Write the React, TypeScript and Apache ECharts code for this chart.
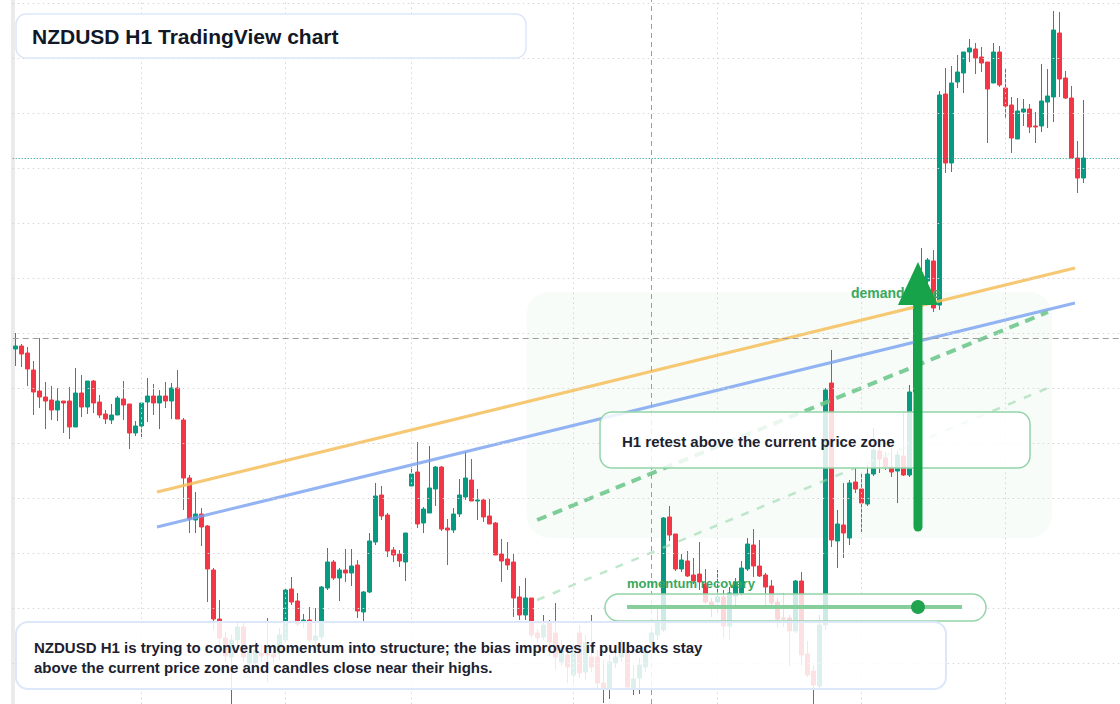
import React, { useEffect, useRef } from 'react';
import * as echarts from 'echarts';

// NZDUSD H1 candles, index 0..178 (oldest first)
const opens = [
  0.58818, 0.58824, 0.5881, 0.58776, 0.58734, 0.58722, 0.58716, 0.58696, 0.58714, 0.58714,
  0.58662, 0.5873, 0.58702, 0.58754, 0.58712, 0.58688, 0.58676, 0.58686, 0.58718, 0.58708,
  0.5865, 0.58664, 0.58712, 0.58724, 0.5871, 0.58724, 0.58714, 0.5874, 0.58676, 0.5856,
  0.58476, 0.58488, 0.58464, 0.58376, 0.58278, 0.5824, 0.58202, 0.58236, 0.58262, 0.5819,
  0.5819, 0.5821, 0.5821, 0.58208, 0.5821, 0.58236, 0.58338, 0.58314, 0.58274, 0.58276,
  0.58236, 0.58242, 0.5834, 0.58392, 0.5836, 0.58376, 0.5837, 0.58386, 0.58292, 0.58332,
  0.58432, 0.58526, 0.58486, 0.58416, 0.58408, 0.58392, 0.58544, 0.58572, 0.5847, 0.5849,
  0.58538, 0.58582, 0.5846, 0.58456, 0.58488, 0.58522, 0.58556, 0.58514, 0.58516, 0.58484,
  0.5847, 0.58408, 0.58398, 0.58392, 0.58322, 0.58286, 0.5832, 0.5825, 0.58242, 0.5827,
  0.5825, 0.58192, 0.58206, 0.58166, 0.5825, 0.58172, 0.58202, 0.58202, 0.5815, 0.5814,
  0.5819, 0.58202, 0.58216, 0.5814, 0.5816, 0.58182, 0.5823, 0.58246, 0.58256, 0.58482,
  0.58448, 0.58378, 0.58394, 0.58366, 0.58368, 0.58348, 0.58312, 0.58312, 0.58322, 0.58264,
  0.58324, 0.5833, 0.58378, 0.58426, 0.58384, 0.58366, 0.58344, 0.58312, 0.5828, 0.5828,
  0.58254, 0.58354, 0.58208, 0.58174, 0.58144, 0.58266, 0.5875, 0.58434, 0.58466, 0.5844,
  0.58552, 0.58538, 0.58508, 0.58568, 0.58614, 0.586, 0.58582, 0.58574, 0.58604, 0.58566,
  0.58732, 0.58916, 0.58954, 0.58994, 0.58906, 0.59328, 0.5919, 0.59352, 0.5937, 0.59412,
  0.59418, 0.59402, 0.59392, 0.5935, 0.59412, 0.5934, 0.59306, 0.59238, 0.59292, 0.59298,
  0.59264, 0.59264, 0.59312, 0.59322, 0.5945, 0.5936, 0.5932, 0.592, 0.5916,
];
const closes = [
  0.58824, 0.58808, 0.58778, 0.58732, 0.58722, 0.58714, 0.58696, 0.58714, 0.5871, 0.58662,
  0.5873, 0.58702, 0.58754, 0.5871, 0.58686, 0.58678, 0.58686, 0.5872, 0.58706, 0.5865,
  0.58664, 0.5871, 0.58724, 0.5871, 0.58724, 0.58714, 0.5874, 0.58678, 0.5856, 0.58478,
  0.58488, 0.58462, 0.58378, 0.58278, 0.5824, 0.58204, 0.58236, 0.58262, 0.58202, 0.58212,
  0.58216, 0.58204, 0.58206, 0.58202, 0.58246, 0.58336, 0.58312, 0.58268, 0.58276, 0.58236,
  0.58244, 0.58342, 0.58392, 0.5836, 0.58376, 0.5837, 0.58384, 0.58294, 0.58332, 0.58434,
  0.58524, 0.58484, 0.58414, 0.58406, 0.58394, 0.5845, 0.58568, 0.58468, 0.58498, 0.5854,
  0.58582, 0.58458, 0.58456, 0.58488, 0.58526, 0.5856, 0.58514, 0.58516, 0.58482, 0.58468,
  0.58406, 0.58394, 0.58386, 0.5832, 0.58286, 0.5832, 0.58246, 0.5824, 0.58266, 0.58232,
  0.58202, 0.58216, 0.58182, 0.58216, 0.5817, 0.5823, 0.58182, 0.5815, 0.5814, 0.58192,
  0.58202, 0.58216, 0.58142, 0.58158, 0.58186, 0.58216, 0.5825, 0.58272, 0.5848, 0.58446,
  0.58378, 0.58396, 0.58364, 0.58354, 0.58352, 0.58312, 0.58302, 0.58322, 0.58264, 0.5833,
  0.58352, 0.5838, 0.58428, 0.58384, 0.58364, 0.58342, 0.5831, 0.58278, 0.58278, 0.58254,
  0.58354, 0.58206, 0.58166, 0.58146, 0.58266, 0.58736, 0.58436, 0.58468, 0.5845, 0.5855,
  0.58538, 0.5851, 0.58568, 0.58616, 0.58598, 0.58582, 0.58572, 0.58606, 0.58566, 0.58732,
  0.58916, 0.58954, 0.58996, 0.589, 0.59326, 0.5919, 0.5935, 0.59372, 0.59412, 0.5942,
  0.594, 0.5939, 0.59338, 0.59412, 0.59346, 0.59304, 0.5924, 0.59294, 0.59298, 0.59262,
  0.59262, 0.59314, 0.59324, 0.59456, 0.59358, 0.5932, 0.592, 0.5916, 0.592,
];
const lows = [
  0.58784, 0.58782, 0.58744, 0.58686, 0.587, 0.58658, 0.58676, 0.58674, 0.5865, 0.58638,
  0.58662, 0.58682, 0.58688, 0.5869, 0.5868, 0.58668, 0.58668, 0.58686, 0.58676, 0.58618,
  0.58644, 0.58642, 0.58672, 0.58686, 0.58658, 0.587, 0.58678, 0.58678, 0.58496, 0.5845,
  0.5845, 0.58424, 0.58312, 0.58256, 0.58226, 0.58192, 0.58108, 0.58226, 0.58192, 0.58176,
  0.5818, 0.58192, 0.58152, 0.58186, 0.58196, 0.58232, 0.58306, 0.58264, 0.5826, 0.58232,
  0.58226, 0.58236, 0.58336, 0.58356, 0.58314, 0.58352, 0.58344, 0.5828, 0.58272, 0.5833,
  0.58426, 0.58476, 0.58402, 0.58392, 0.58382, 0.58354, 0.58544, 0.5846, 0.5845, 0.5849,
  0.58504, 0.58454, 0.58386, 0.5845, 0.58482, 0.58516, 0.58514, 0.58476, 0.58472, 0.58468,
  0.58406, 0.58352, 0.58376, 0.58282, 0.58276, 0.58276, 0.5824, 0.58232, 0.58236, 0.58204,
  0.58176, 0.58184, 0.5815, 0.58146, 0.5816, 0.58156, 0.58172, 0.5814, 0.5811, 0.58118,
  0.5818, 0.58192, 0.58136, 0.58126, 0.58128, 0.58172, 0.5822, 0.58236, 0.58252, 0.58434,
  0.58374, 0.58372, 0.58362, 0.58348, 0.58336, 0.58308, 0.58282, 0.5829, 0.5824, 0.58236,
  0.583, 0.58324, 0.58374, 0.58362, 0.58362, 0.583, 0.58304, 0.5826, 0.58262, 0.58184,
  0.5825, 0.58186, 0.58162, 0.58108, 0.5814, 0.58256, 0.58422, 0.5838, 0.584, 0.58426,
  0.5853, 0.58452, 0.58504, 0.58564, 0.5857, 0.58576, 0.58562, 0.5851, 0.58564, 0.58562,
  0.5872, 0.58906, 0.58946, 0.58892, 0.58896, 0.5917, 0.59172, 0.5934, 0.5933, 0.59392,
  0.59368, 0.59372, 0.5923, 0.5935, 0.59342, 0.59278, 0.5921, 0.59238, 0.59264, 0.5925,
  0.5923, 0.59252, 0.5926, 0.59272, 0.59322, 0.59318, 0.592, 0.5913, 0.5915,
];
const highs = [
  0.5885, 0.58828, 0.58822, 0.58794, 0.5884, 0.58752, 0.58744, 0.5874, 0.58714, 0.58742,
  0.5878, 0.58766, 0.58754, 0.58756, 0.58726, 0.58696, 0.58708, 0.58724, 0.58754, 0.58708,
  0.58674, 0.5871, 0.5876, 0.58748, 0.58736, 0.58752, 0.5875, 0.58776, 0.5868, 0.58566,
  0.58532, 0.585, 0.58466, 0.5838, 0.58316, 0.58252, 0.58246, 0.58274, 0.58272, 0.58226,
  0.58236, 0.58226, 0.5828, 0.5822, 0.5826, 0.5834, 0.58362, 0.5833, 0.58288, 0.58302,
  0.583, 0.58344, 0.5842, 0.58396, 0.5838, 0.58418, 0.58418, 0.58396, 0.58334, 0.5845,
  0.5855, 0.58544, 0.5849, 0.58422, 0.58416, 0.5845, 0.58582, 0.58632, 0.58502, 0.58624,
  0.58584, 0.58584, 0.58478, 0.585, 0.58558, 0.58612, 0.58598, 0.58538, 0.58518, 0.58518,
  0.58472, 0.58438, 0.58432, 0.58408, 0.58344, 0.5836, 0.5832, 0.58258, 0.58286, 0.58276,
  0.5831, 0.58236, 0.58226, 0.58232, 0.58266, 0.58246, 0.58286, 0.58216, 0.58196, 0.58206,
  0.58226, 0.58236, 0.58226, 0.58186, 0.582, 0.58226, 0.58262, 0.58302, 0.58482, 0.58504,
  0.58448, 0.58408, 0.58414, 0.584, 0.58432, 0.58378, 0.5832, 0.58376, 0.58336, 0.58342,
  0.5836, 0.58394, 0.5844, 0.58458, 0.58436, 0.5837, 0.58356, 0.5832, 0.5833, 0.58286,
  0.58356, 0.58372, 0.58234, 0.58186, 0.58286, 0.5874, 0.58816, 0.58496, 0.5855, 0.58556,
  0.5858, 0.5857, 0.58586, 0.5866, 0.58632, 0.58612, 0.5862, 0.58614, 0.5869, 0.58746,
  0.58936, 0.5902, 0.59, 0.59016, 0.59334, 0.5938, 0.59384, 0.59406, 0.59412, 0.59438,
  0.5943, 0.59422, 0.59392, 0.5943, 0.59424, 0.5938, 0.59322, 0.5932, 0.59318, 0.59308,
  0.59292, 0.59388, 0.59378, 0.59494, 0.59492, 0.59374, 0.59344, 0.59234, 0.59316,
];

// price grid levels, session separators (candle index), crosshair and last price
const priceLevels = [
  0.5951, 0.594, 0.5929, 0.5918, 0.5907, 0.5896, 0.5885, 0.5874, 0.5863, 0.5852, 0.5841, 0.583, 0.5819,
];
const dayBreaks = [21, 45, 66, 93, 117, 141, 165];
const crosshairIndex = 106;
const crosshairPrice = 0.5884;
const lastPrice = 0.592;

// drawn trend lines, [candle index, price]
const upperChannel = [[23.55, 0.58532], [176.55, 0.5898]];
const lowerChannel = [[23.55, 0.58462], [176.55, 0.5891]];
const momentumTrend = [[86.9, 0.58476], [172.05, 0.58892]];
const momentumBase = [[86.9, 0.58316], [172.05, 0.5874]];

// demand zone and breakout arrow in data space
const zoneStart = 85.2;
const zoneEnd = 172.7;
const zoneTop = 0.58932;
const zoneBottom = 0.5844;
const arrowIndex = 150.38;
const arrowFrom = 0.58462;
const arrowTo = 0.58992;

const FONT = '"Liberation Sans", Arial, Helvetica, sans-serif';
const UP = '#089981';
const DOWN = '#f23645';

const App: React.FC = () => {
  const chartRef = useRef<HTMLDivElement>(null);

  useEffect(() => {
    if (!chartRef.current) return;
    const chart = echarts.init(chartRef.current, undefined, { renderer: 'svg' });

    const candles = opens.map((o, i) => [i, o, closes[i], lows[i], highs[i]]);
    const gridDots = { color: '#d6d6d6', width: 1, type: [1.5, 3.5] as number[] };
    const trend = (data: number[][], color: string, width: number, type: any = 'solid') => ({
      type: 'line',
      data,
      symbol: 'none',
      silent: true,
      z: 3,
      lineStyle: { color, width, type, cap: 'butt' },
    });

    chart.setOption({
      animation: false,
      backgroundColor: '#ffffff',
      grid: { left: 12.7, right: 0, top: 0, bottom: 0 },
      xAxis: {
        type: 'value',
        min: -0.5,
        max: 184.05,
        show: false,
      },
      yAxis: {
        type: 'value',
        min: 0.58108,
        max: 0.59516,
        axisLabel: { show: false },
        axisTick: { show: false },
        axisLine: { show: true, onZero: false, lineStyle: { color: '#ebebeb', width: 4 } },
        splitLine: { show: false },
      },
      series: [
        {
          type: 'line',
          data: [],
          silent: true,
          z: 1,
          markLine: {
            silent: true,
            precision: 6,
            symbol: ['none', 'none'],
            label: { show: false },
            data: [
              ...priceLevels.map((y) => ({ yAxis: y, lineStyle: gridDots })),
              ...dayBreaks.map((x) => ({ xAxis: x, lineStyle: gridDots })),
              { xAxis: crosshairIndex, lineStyle: { color: '#9e9e9e', width: 1, type: [5, 4] } },
              { yAxis: crosshairPrice, lineStyle: { color: '#9e9e9e', width: 1, type: [6, 4] } },
              { yAxis: lastPrice, lineStyle: { color: UP, width: 1, type: [1, 2] } },
            ],
          },
        },
        {
          type: 'candlestick',
          data: candles,
          encode: { x: 0, y: [1, 2, 3, 4] },
          barWidth: 4,
          z: 2,
          itemStyle: {
            color: UP,
            color0: DOWN,
            borderColor: UP,
            borderColor0: DOWN,
            borderWidth: 1,
          },
        },
        trend(upperChannel, 'rgba(246, 190, 90, 0.85)', 3),
        trend(lowerChannel, 'rgba(120, 160, 240, 0.8)', 3),
        trend(momentumTrend, 'rgba(110, 200, 140, 0.9)', 4, [10, 7]),
        trend(momentumBase, 'rgba(150, 215, 170, 0.6)', 2.5, [8, 9]),
      ],
    });

    // annotations anchored to the data
    const px = (x: number, y: number) => chart.convertToPixel({ gridIndex: 0 }, [x, y]) as number[];
    const zA = px(zoneStart, zoneTop);
    const zB = px(zoneEnd, zoneBottom);
    const aFrom = px(arrowIndex, arrowFrom);
    const aTo = px(arrowIndex, arrowTo);
    const headH = 43;
    const headHalf = 20;
    const dark = '#1b2230';
    const green = '#3aa85c';
    const textStyle = (text: string, size: number, fill: string) => ({
      text,
      fill,
      fontSize: size,
      fontWeight: 'bold',
      fontFamily: FONT,
      verticalAlign: 'middle',
      align: 'left',
    });

    chart.setOption({
      graphic: [
        {
          type: 'rect',
          z: 1,
          silent: true,
          shape: { x: zA[0], y: zA[1], width: zB[0] - zA[0], height: zB[1] - zA[1], r: 22 },
          style: { fill: 'rgba(60, 190, 100, 0.04)' },
        },
        { type: 'text', z: 5, x: 851, y: 293, style: textStyle('demand zone', 14, green) },
        // H1 retest note
        {
          type: 'rect',
          z: 20,
          shape: { x: 600, y: 412, width: 430, height: 56, r: 12 },
          style: { fill: 'rgba(255,255,255,0.84)', stroke: '#93d5a8', lineWidth: 1.5 },
        },
        { type: 'text', z: 21, x: 622, y: 441, style: textStyle('H1 retest above the current price zone', 15, dark) },
        // momentum recovery slider
        { type: 'text', z: 21, x: 627, y: 583, style: textStyle('momentum recovery', 13, green) },
        {
          type: 'rect',
          z: 20,
          shape: { x: 605, y: 594, width: 381, height: 27, r: 13.5 },
          style: { fill: 'rgba(255,255,255,0.8)', stroke: '#93d5a8', lineWidth: 1.5 },
        },
        {
          type: 'line',
          z: 21,
          shape: { x1: 627, y1: 607, x2: 962, y2: 607 },
          style: { stroke: '#86cf9d', lineWidth: 4 },
        },
        { type: 'circle', z: 22, shape: { cx: 918, cy: 607, r: 7 }, style: { fill: '#22a34f' } },
        // caption
        {
          type: 'rect',
          z: 20,
          shape: { x: 16, y: 622, width: 930, height: 67, r: 12 },
          style: { fill: 'rgba(255,255,255,0.86)', stroke: '#dce7fa', lineWidth: 2 },
        },
        {
          type: 'text',
          z: 21,
          x: 34,
          y: 647,
          style: textStyle(
            'NZDUSD H1 is trying to convert momentum into structure; the bias improves if pullbacks stay',
            15,
            dark
          ),
        },
        {
          type: 'text',
          z: 21,
          x: 34,
          y: 667,
          style: textStyle('above the current price zone and candles close near their highs.', 15, dark),
        },
        // title
        {
          type: 'rect',
          z: 20,
          shape: { x: 16, y: 14, width: 510, height: 44, r: 10 },
          style: { fill: '#ffffff', stroke: '#dce7fa', lineWidth: 1.5 },
        },
        { type: 'text', z: 21, x: 32, y: 36, style: textStyle('NZDUSD H1 TradingView chart', 21, '#111827') },
        // breakout arrow
        {
          type: 'line',
          z: 30,
          shape: { x1: aFrom[0], y1: aFrom[1], x2: aTo[0], y2: aTo[1] + headH - 2 },
          style: { stroke: '#16a34a', lineWidth: 9, lineCap: 'round' },
        },
        {
          type: 'polygon',
          z: 30,
          shape: {
            points: [
              [aTo[0], aTo[1]],
              [aTo[0] - headHalf, aTo[1] + headH],
              [aTo[0] + headHalf, aTo[1] + headH],
            ],
          },
          style: { fill: '#16a34a' },
        },
      ],
    });

    return () => {
      chart.dispose();
    };
  }, []);

  return (
    <div
      ref={chartRef}
      style={{ position: 'fixed', left: 0, top: 0, width: 1120, height: 704, background: '#fff' }}
    />
  );
};

export default App;
